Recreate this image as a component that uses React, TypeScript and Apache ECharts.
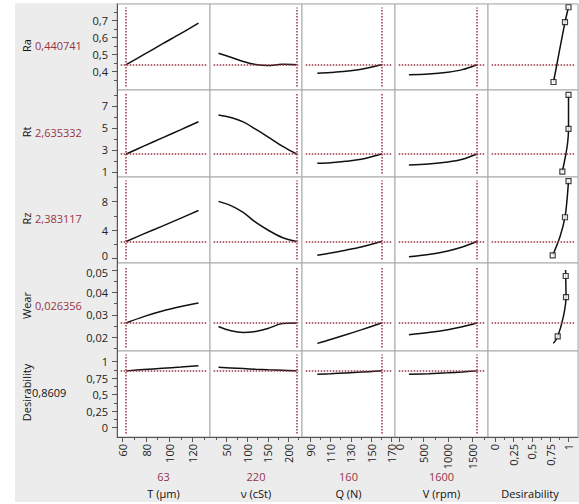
import React, { useEffect, useRef } from "react";
import * as echarts from "echarts";

// ---------- data ----------
const RESPONSES = ["Ra", "Rt", "Rz", "Wear", "Desirability"];
const RESPONSE_VALUE_TEXT = ["0,440741", "2,635332", "2,383117", "0,026356", "0,8609"];
const CURRENT_Y = [0.440741, 2.635332, 2.383117, 0.026356, 0.8609];

const FACTORS = ["T (µm)", "ν (cSt)", "Q (N)", "V (rpm)", "Desirability"];
const FACTOR_VALUE_TEXT = ["63", "220", "160", "1600"];
const CURRENT_X = [63, 220, 160, 1600];

// axis ranges & ticks (x per column, y per row)
const X_MIN = [55.1, 9.3, 82, -93, -0.095];
const X_MAX = [134.9, 233, 173.3, 1831, 1.129];
const X_MAJOR = [
  [60, 80, 100, 120],
  [50, 100, 150, 200],
  [90, 110, 130, 150, 170],
  [0, 500, 1000, 1500],
  [0, 0.25, 0.5, 0.75, 1],
];
const X_MINOR = [
  [70, 90, 110, 130],
  [25, 75, 125, 175, 225],
  [100, 120, 140, 160],
  [250, 750, 1250, 1750],
  [0.125, 0.375, 0.625, 0.875],
];
const Y_MIN = [0.292, 0.545, -0.66, 0.0139, -0.141];
const Y_MAX = [0.798, 8.45, 11.49, 0.0531, 1.162];
const Y_MAJOR = [
  [0.4, 0.5, 0.6, 0.7],
  [1, 3, 5, 7],
  [0, 4, 8],
  [0.02, 0.03, 0.04, 0.05],
  [0, 0.25, 0.5, 0.75, 1],
];
const Y_MINOR = [
  [0.35, 0.45, 0.55, 0.65, 0.75],
  [2, 4, 6, 8],
  [2, 6, 10],
  [0.015, 0.025, 0.035, 0.045],
  [0.125, 0.375, 0.625, 0.875],
];

// T (µm)
const T_X = [63, 78, 94, 110, 125];
const T_RA = [0.441, 0.5, 0.563, 0.625, 0.686];
const T_RT = [2.635, 3.35, 4.1, 4.85, 5.57];
const T_RZ = [2.383, 3.45, 4.55, 5.68, 6.76];
const T_WEAR = [0.02636, 0.0292, 0.0317, 0.0337, 0.0353];
const T_DES = [0.8609, 0.88, 0.9, 0.92, 0.94];

// ν (cSt)
const NU_X = [30, 60, 90, 120, 150, 185, 220];
const NU_RA = [0.508, 0.485, 0.46, 0.442, 0.436, 0.443, 0.441];
const NU_RT = [6.18, 5.95, 5.55, 4.9, 4.2, 3.35, 2.635];
const NU_RZ = [8.05, 7.45, 6.5, 5.1, 4.0, 2.95, 2.383];
const NU_WEAR = [0.0248, 0.0229, 0.0221, 0.0226, 0.0239, 0.0261, 0.02636];
const NU_DES = [0.915, 0.905, 0.895, 0.885, 0.877, 0.869, 0.8609];

// Q (N)
const Q_X = [97, 110, 125, 140, 160];
const Q_RA = [0.391, 0.395, 0.402, 0.414, 0.441];
const Q_RT = [1.79, 1.85, 1.97, 2.15, 2.635];
const Q_RZ = [0.43, 0.75, 1.15, 1.6, 2.383];
const Q_WEAR = [0.0173, 0.019, 0.0211, 0.0233, 0.02636];
const Q_DES = [0.809, 0.818, 0.83, 0.842, 0.8609];

// V (rpm)
const V_X = [195, 600, 1000, 1300, 1600];
const V_RA = [0.382, 0.386, 0.397, 0.412, 0.441];
const V_RT = [1.64, 1.72, 1.9, 2.15, 2.635];
const V_RZ = [0.23, 0.55, 1.05, 1.6, 2.383];
const V_WEAR = [0.0211, 0.0221, 0.0234, 0.0247, 0.02636];
const V_DES = [0.809, 0.818, 0.832, 0.845, 0.8609];

// desirability functions (x = desirability, y = response)
const DES_RA_X = [0.796, 0.952, 1.0];
const DES_RA_Y = [0.339, 0.691, 0.779];
const DES_RA_MARK_X = [0.796, 0.952, 1.0];
const DES_RA_MARK_Y = [0.339, 0.691, 0.779];

const DES_RT_X = [0.916, 0.955, 0.985, 1.0, 1.0];
const DES_RT_Y = [1.03, 2.3, 3.5, 4.91, 8.0];
const DES_RT_MARK_X = [0.916, 1.0, 1.0];
const DES_RT_MARK_Y = [1.03, 4.91, 8.0];

const DES_RZ_X = [0.785, 0.884, 0.952, 0.98, 1.0];
const DES_RZ_Y = [0.43, 3.06, 5.8, 8.3, 10.9];
const DES_RZ_MARK_X = [0.785, 0.952, 1.0];
const DES_RZ_MARK_Y = [0.43, 5.8, 10.9];

const DES_WEAR_X = [0.793, 0.853, 0.93, 0.966, 0.962, 0.96];
const DES_WEAR_Y = [0.0173, 0.0204, 0.0292, 0.0379, 0.0473, 0.05];
const DES_WEAR_MARK_X = [0.853, 0.966, 0.962];
const DES_WEAR_MARK_Y = [0.0204, 0.0379, 0.0473];

const FACTOR_X = [T_X, NU_X, Q_X, V_X];
const PROFILES = [
  [T_RA, NU_RA, Q_RA, V_RA],
  [T_RT, NU_RT, Q_RT, V_RT],
  [T_RZ, NU_RZ, Q_RZ, V_RZ],
  [T_WEAR, NU_WEAR, Q_WEAR, V_WEAR],
  [T_DES, NU_DES, Q_DES, V_DES],
];
const DES_CURVES = [
  [DES_RA_X, DES_RA_Y, DES_RA_MARK_X, DES_RA_MARK_Y],
  [DES_RT_X, DES_RT_Y, DES_RT_MARK_X, DES_RT_MARK_Y],
  [DES_RZ_X, DES_RZ_Y, DES_RZ_MARK_X, DES_RZ_MARK_Y],
  [DES_WEAR_X, DES_WEAR_Y, DES_WEAR_MARK_X, DES_WEAR_MARK_Y],
];

// ---------- layout ----------
const W = 579;
const H = 504;
const COL_EDGES = [117, 210, 302, 395, 488, 578];
const ROW_EDGES = [4, 90, 177, 263, 351, 437];
const FONT = '"Open Sans", "Noto Sans", sans-serif';
const DASH_COLOR = "#9a3343";
const VALUE_COLOR = "#963446";
const AXIS_COLOR = "#555";

const fmt = (v: number) => String(v).replace(".", ",");
const zip = (xs: number[], ys: number[]) => xs.map((x, i) => [x, ys[i]]);

// labels that touch the neighbouring panel's label are nudged apart slightly
function yLabelFormatter(r: number) {
  return (v: number) => {
    if (r === 2 && v === Y_MAJOR[2][0]) return `{up|${fmt(v)}}`;
    if (r === 3 && v === Y_MAJOR[3][Y_MAJOR[3].length - 1]) return `{down|${fmt(v)}}`;
    return fmt(v);
  };
}
const LABEL_RICH = {
  up: { fontSize: 11, fontFamily: FONT, color: "#222", padding: [0, 0, 5, 0] },
  down: { fontSize: 11, fontFamily: FONT, color: "#222", padding: [5, 0, 0, 0] },
};

function buildOption() {
  const grid: any[] = [];
  const xAxis: any[] = [];
  const yAxis: any[] = [];
  const series: any[] = [];
  const graphic: any[] = [];

  for (let r = 0; r < 5; r++) {
    for (let c = 0; c < 5; c++) {
      const g = r * 5 + c;
      grid.push({
        left: COL_EDGES[c],
        top: ROW_EDGES[r],
        width: COL_EDGES[c + 1] - COL_EDGES[c],
        height: ROW_EDGES[r + 1] - ROW_EDGES[r],
        show: true,
        backgroundColor: "#ffffff",
        borderColor: "#a8a8a8",
        borderWidth: 1,
        containLabel: false,
        outerBoundsMode: "none",
      });
      xAxis.push({
        gridIndex: g,
        type: "value",
        min: X_MIN[c],
        max: X_MAX[c],
        position: "bottom",
        show: r === 4,
        axisLine: { show: true, onZero: false, lineStyle: { color: AXIS_COLOR, width: 1 } },
        axisTick: { show: true, length: 5, customValues: X_MAJOR[c], lineStyle: { color: AXIS_COLOR } },
        axisLabel: {
          show: true,
          customValues: X_MAJOR[c],
          rotate: 90,
          margin: 7,
          fontSize: 11,
          lineHeight: 11,
          fontFamily: FONT,
          color: "#222",
          formatter: fmt,
        },
        splitLine: { show: false },
      });
      yAxis.push({
        gridIndex: g,
        type: "value",
        min: Y_MIN[r],
        max: Y_MAX[r],
        position: "left",
        show: c === 0,
        axisLine: { show: true, onZero: false, lineStyle: { color: AXIS_COLOR, width: 1 } },
        axisTick: { show: true, length: 5, customValues: Y_MAJOR[r], lineStyle: { color: AXIS_COLOR } },
        axisLabel: {
          show: true,
          customValues: Y_MAJOR[r],
          margin: 9,
          fontSize: 11,
          lineHeight: 11,
          fontFamily: FONT,
          color: "#222",
          formatter: yLabelFormatter(r),
          rich: LABEL_RICH,
        },
        splitLine: { show: false },
      });
    }
  }
  // minor tick axes
  for (let c = 0; c < 5; c++) {
    xAxis.push({
      gridIndex: 20 + c,
      type: "value",
      min: X_MIN[c],
      max: X_MAX[c],
      position: "bottom",
      axisLine: { show: false, onZero: false },
      axisTick: { show: true, length: 3, customValues: X_MINOR[c], lineStyle: { color: AXIS_COLOR } },
      axisLabel: { show: false },
      splitLine: { show: false },
    });
  }
  for (let r = 0; r < 5; r++) {
    yAxis.push({
      gridIndex: r * 5,
      type: "value",
      min: Y_MIN[r],
      max: Y_MAX[r],
      position: "left",
      axisLine: { show: false, onZero: false },
      axisTick: { show: true, length: 3, customValues: Y_MINOR[r], lineStyle: { color: AXIS_COLOR } },
      axisLabel: { show: false },
      splitLine: { show: false },
    });
  }

  const dashStyle = { color: DASH_COLOR, type: [1.5, 1.5], width: 1.5 };

  for (let r = 0; r < 5; r++) {
    const yv = CURRENT_Y[r];
    const dy = (Y_MAX[r] - Y_MIN[r]) * 0.04;
    for (let c = 0; c < 4; c++) {
      const g = r * 5 + c;
      const xv = CURRENT_X[c];
      const dx = (X_MAX[c] - X_MIN[c]) * 0.04;
      series.push({
        type: "line",
        xAxisIndex: g,
        yAxisIndex: g,
        data: zip(FACTOR_X[c], PROFILES[r][c]),
        smooth: 0.35,
        symbol: "none",
        showSymbol: false,
        lineStyle: { color: "#111", width: 1.5 },
        z: 3,
        markLine: {
          silent: true,
          symbol: ["none", "none"],
          label: { show: false },
          lineStyle: dashStyle,
          data: [
            [{ coord: [X_MIN[c] + dx, yv] }, { coord: [X_MAX[c] - dx, yv] }],
            [{ coord: [xv, Y_MIN[r] + dy] }, { coord: [xv, Y_MAX[r] - dy] }],
          ],
        },
      });
    }
    if (r < 4) {
      const g = r * 5 + 4;
      const [cx, cy, mx, my] = DES_CURVES[r];
      const dx = (X_MAX[4] - X_MIN[4]) * 0.04;
      series.push({
        type: "line",
        xAxisIndex: g,
        yAxisIndex: g,
        data: zip(cx, cy),
        smooth: 0.3,
        symbol: "none",
        showSymbol: false,
        lineStyle: { color: "#111", width: 1.5 },
        z: 3,
        markLine: {
          silent: true,
          symbol: ["none", "none"],
          label: { show: false },
          lineStyle: dashStyle,
          data: [[{ coord: [X_MIN[4] + dx, yv] }, { coord: [X_MAX[4] - dx, yv] }]],
        },
      });
      series.push({
        type: "scatter",
        xAxisIndex: g,
        yAxisIndex: g,
        data: zip(mx, my),
        symbol: "rect",
        symbolSize: 5,
        itemStyle: { color: "#ffffff", borderColor: "#111", borderWidth: 1.2 },
        z: 4,
      });
    }
  }

  // row labels
  for (let r = 0; r < 5; r++) {
    const cy = (ROW_EDGES[r] + ROW_EDGES[r + 1]) / 2 - 1.5;
    graphic.push({
      type: "text",
      x: 26,
      y: cy,
      rotation: Math.PI / 2,
      style: {
        text: RESPONSES[r],
        font: `11px ${FONT}`,
        fill: "#111",
        align: "center",
        verticalAlign: "middle",
        textAlign: "center",
        textVerticalAlign: "middle",
      },
    });
    graphic.push({
      type: "text",
      x: r === 4 ? 32 : 35,
      y: cy,
      style: {
        text: RESPONSE_VALUE_TEXT[r],
        font: `11px ${FONT}`,
        fill: r === 4 ? "#111" : VALUE_COLOR,
        align: "left",
        verticalAlign: "middle",
        textAlign: "left",
        textVerticalAlign: "middle",
      },
    });
  }
  // column labels
  for (let c = 0; c < 5; c++) {
    const cx = (COL_EDGES[c] + COL_EDGES[c + 1]) / 2;
    if (c < 4) {
      graphic.push({
        type: "text",
        x: cx,
        y: 476,
        style: {
          text: FACTOR_VALUE_TEXT[c],
          font: `11px ${FONT}`,
          fill: VALUE_COLOR,
          align: "center",
          verticalAlign: "middle",
          textAlign: "center",
          textVerticalAlign: "middle",
        },
      });
    }
    graphic.push({
      type: "text",
      x: c === 4 ? cx - 3 : cx,
      y: 493,
      style: {
        text: FACTORS[c],
        font: `11px ${FONT}`,
        fill: "#111",
        align: "center",
        verticalAlign: "middle",
        textAlign: "center",
        textVerticalAlign: "middle",
      },
    });
  }

  return {
    animation: false,
    grid,
    xAxis,
    yAxis,
    series,
    graphic,
  };
}

export default function App() {
  const ref = useRef<HTMLDivElement>(null);
  useEffect(() => {
    if (!ref.current) return;
    const chart = echarts.init(ref.current, undefined, { renderer: "svg", width: W, height: H });
    chart.setOption(buildOption() as any);
    return () => chart.dispose();
  }, []);
  return (
    <div style={{ position: "fixed", left: 0, top: 0, width: W, height: H, background: "#ffffff" }}>
      <div style={{ position: "absolute", left: 15, top: 3, width: 564, height: 499, background: "#ececec" }} />
      <div ref={ref} style={{ position: "absolute", left: 0, top: 0, width: W, height: H }} />
    </div>
  );
}
